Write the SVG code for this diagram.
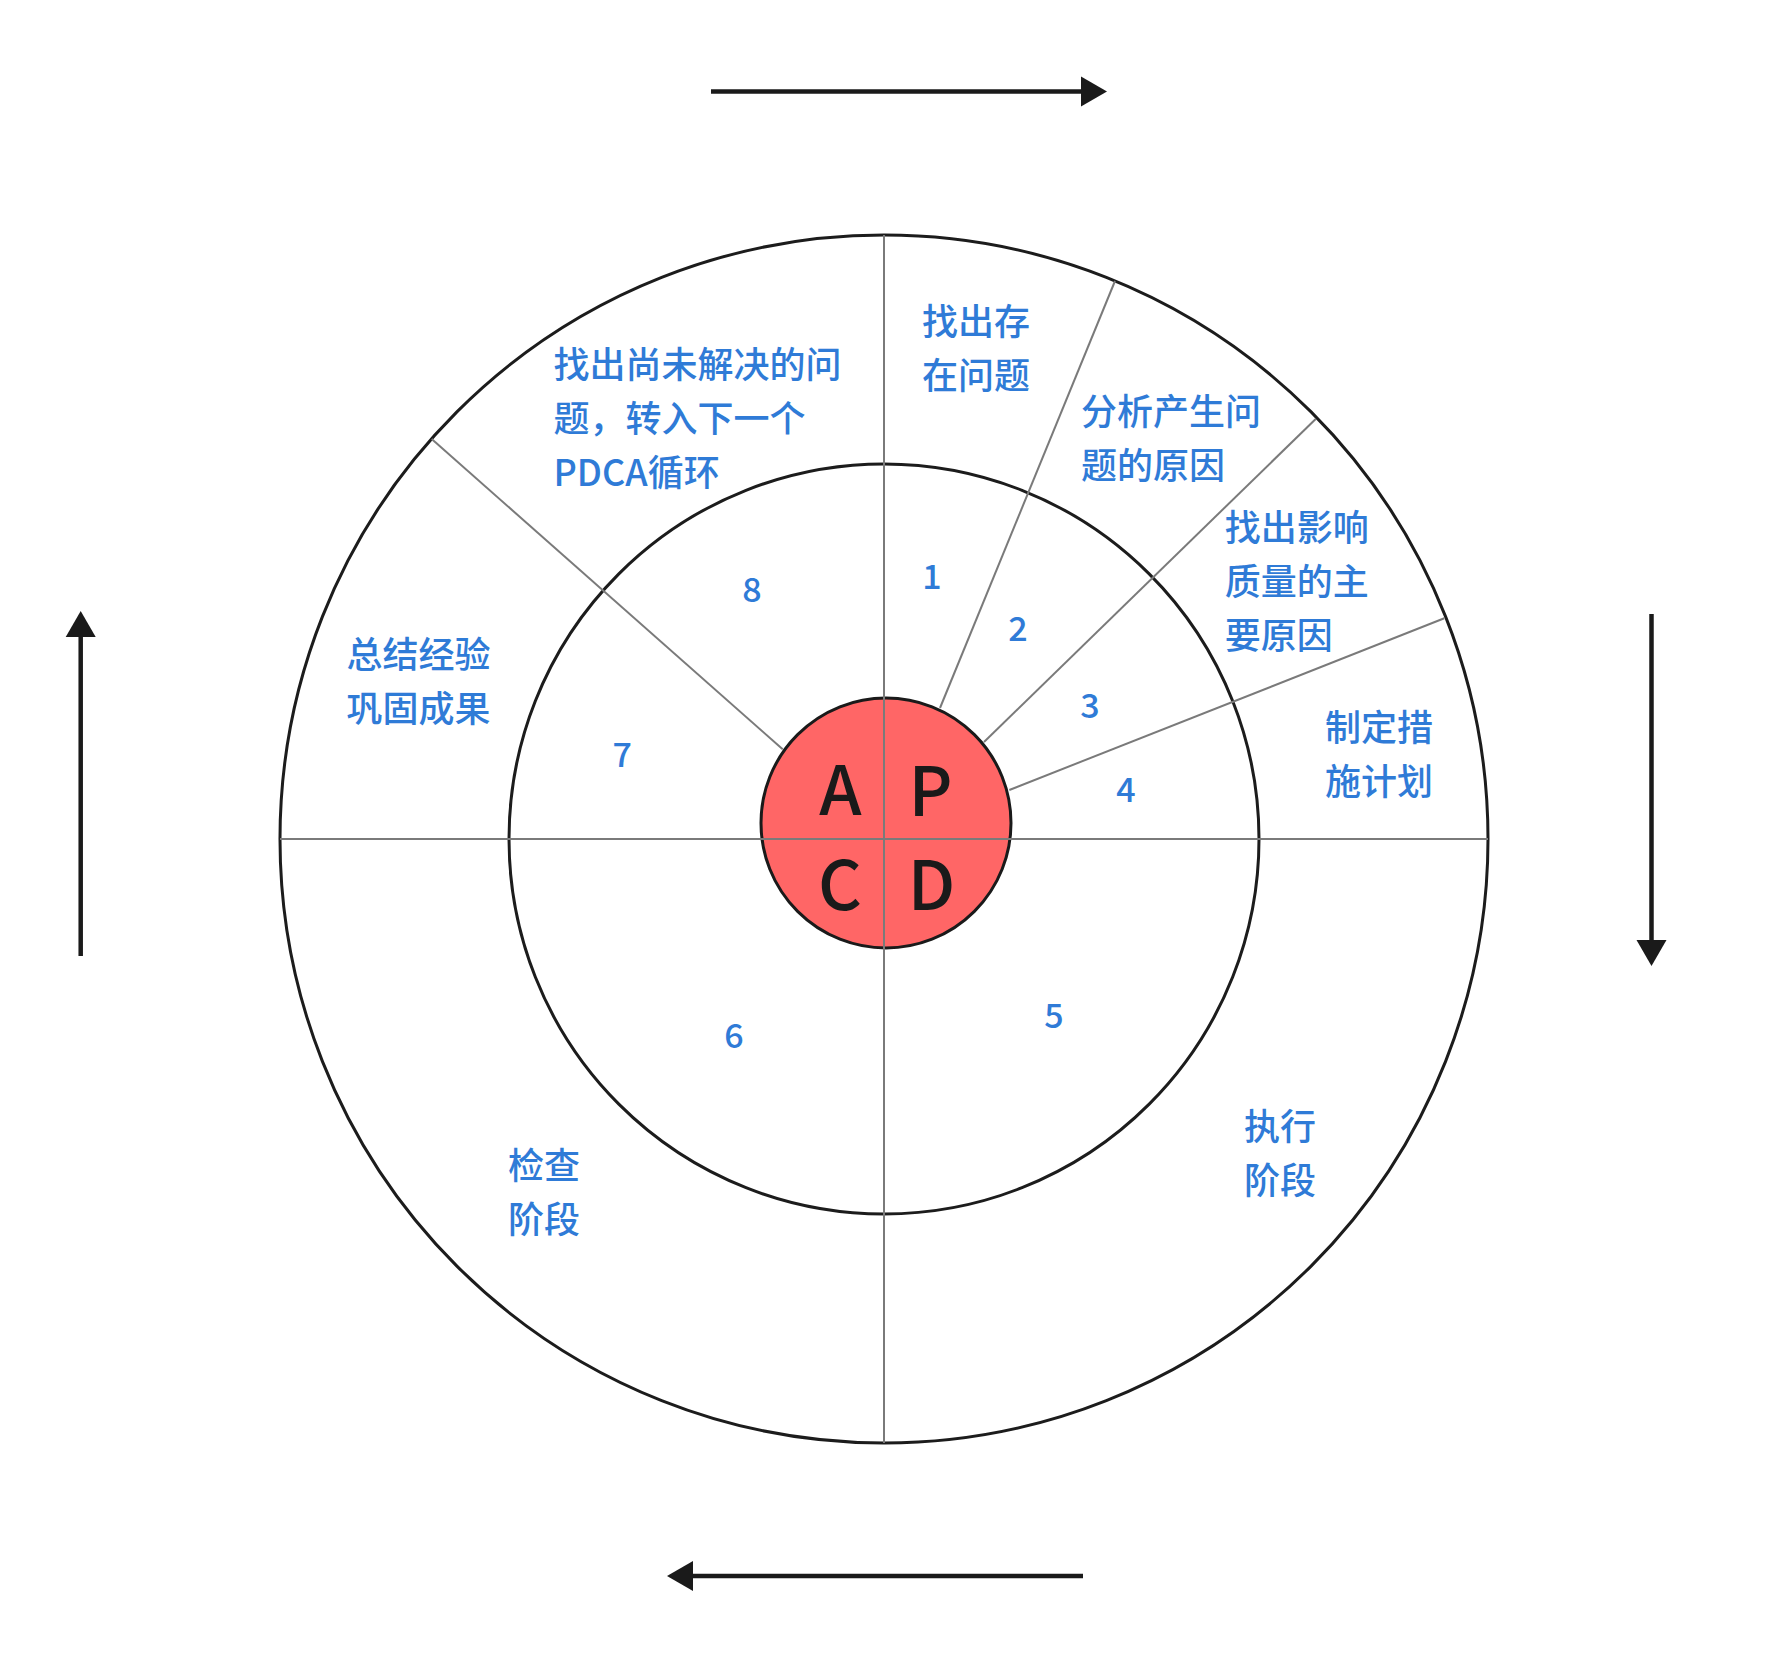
<svg xmlns="http://www.w3.org/2000/svg" width="1766" height="1669" viewBox="0 0 1766 1669">
<style>
.ring{fill:none;stroke:#1c1c1c;stroke-width:3}
.div{stroke:#7a7a7a;stroke-width:2;fill:none}
.lbl{font-family:"Noto Sans CJK SC","Noto Sans",sans-serif;font-size:36px;font-weight:500;fill:#2f7bd7}
.num{font-family:"Noto Sans CJK SC","Noto Sans",sans-serif;font-size:34px;font-weight:500;fill:#2f7bd7;text-anchor:middle}
.big{font-family:"Noto Sans CJK SC","Noto Sans",sans-serif;font-size:68px;font-weight:500;fill:#1a1a1a;text-anchor:middle}
.arr{stroke:#1a1a1a;stroke-width:4.5;fill:none}
.head{fill:#1a1a1a}
</style>
<rect width="1766" height="1669" fill="#ffffff"/>
<g id="rings">
<circle class="ring" cx="884" cy="839" r="604"/>
<circle class="ring" cx="884" cy="839" r="375"/>
</g>
<g id="dividers">
<line class="div" x1="940" y1="708" x2="1115" y2="281"/>
<line class="div" x1="984" y1="742" x2="1315.7" y2="419"/>
<line class="div" x1="1009.3" y1="790" x2="1444.3" y2="618.3"/>
<line class="div" x1="782.7" y1="749.3" x2="431.7" y2="439"/>
</g>
<g id="center">
<circle cx="886" cy="823" r="125" fill="#ff6666" stroke="#1a1a1a" stroke-width="3"/>
</g>
<g id="axes">
<line class="div" x1="280" y1="839" x2="1488" y2="839"/>
<line class="div" x1="884" y1="235" x2="884" y2="1443"/>
</g>
<g id="pdca-letters">
<text class="big" x="840.5" y="815">A</text>
<text class="big" x="930.5" y="816">P</text>
<text class="big" x="840" y="910">C</text>
<text class="big" x="931.5" y="910">D</text>
</g>
<g id="step-1"><text class="num" x="932" y="589">1</text><text class="lbl" x="922" y="335">找出存</text><text class="lbl" x="922" y="389">在问题</text></g>
<g id="step-2"><text class="num" x="1018" y="641">2</text><text class="lbl" x="1081" y="425">分析产生问</text><text class="lbl" x="1081" y="479">题的原因</text></g>
<g id="step-3"><text class="num" x="1090" y="718">3</text><text class="lbl" x="1224.7" y="541">找出影响</text><text class="lbl" x="1224.7" y="595">质量的主</text><text class="lbl" x="1224.7" y="649">要原因</text></g>
<g id="step-4"><text class="num" x="1126" y="802">4</text><text class="lbl" x="1325" y="741">制定措</text><text class="lbl" x="1325" y="795">施计划</text></g>
<g id="step-5"><text class="num" x="1054" y="1028">5</text><text class="lbl" x="1244" y="1140">执行</text><text class="lbl" x="1244" y="1194">阶段</text></g>
<g id="step-6"><text class="num" x="734" y="1048">6</text><text class="lbl" x="508" y="1179">检查</text><text class="lbl" x="508" y="1233">阶段</text></g>
<g id="step-7"><text class="num" x="622.3" y="767">7</text><text class="lbl" x="346.5" y="668">总结经验</text><text class="lbl" x="346.5" y="722">巩固成果</text></g>
<g id="step-8"><text class="num" x="752" y="602">8</text><text class="lbl" x="553.5" y="378">找出尚未解决的问</text><text class="lbl" x="553.5" y="432">题，转入下一个</text><text class="lbl" x="553.5" y="486">PDCA循环</text></g>
<g id="connectors">
<line class="arr" x1="711" y1="91.5" x2="1083" y2="91.5"/>
<polygon class="head" points="1081,76.5 1107,91.5 1081,106.5"/>
<line class="arr" x1="1651.5" y1="614" x2="1651.5" y2="942"/>
<polygon class="head" points="1636.5,940 1651.5,966 1666.5,940"/>
<line class="arr" x1="1083" y1="1576" x2="691" y2="1576"/>
<polygon class="head" points="693,1561 667,1576 693,1591"/>
<line class="arr" x1="80.7" y1="956" x2="80.7" y2="635"/>
<polygon class="head" points="65.7,637 80.7,611 95.7,637"/>
</g>
</svg>
